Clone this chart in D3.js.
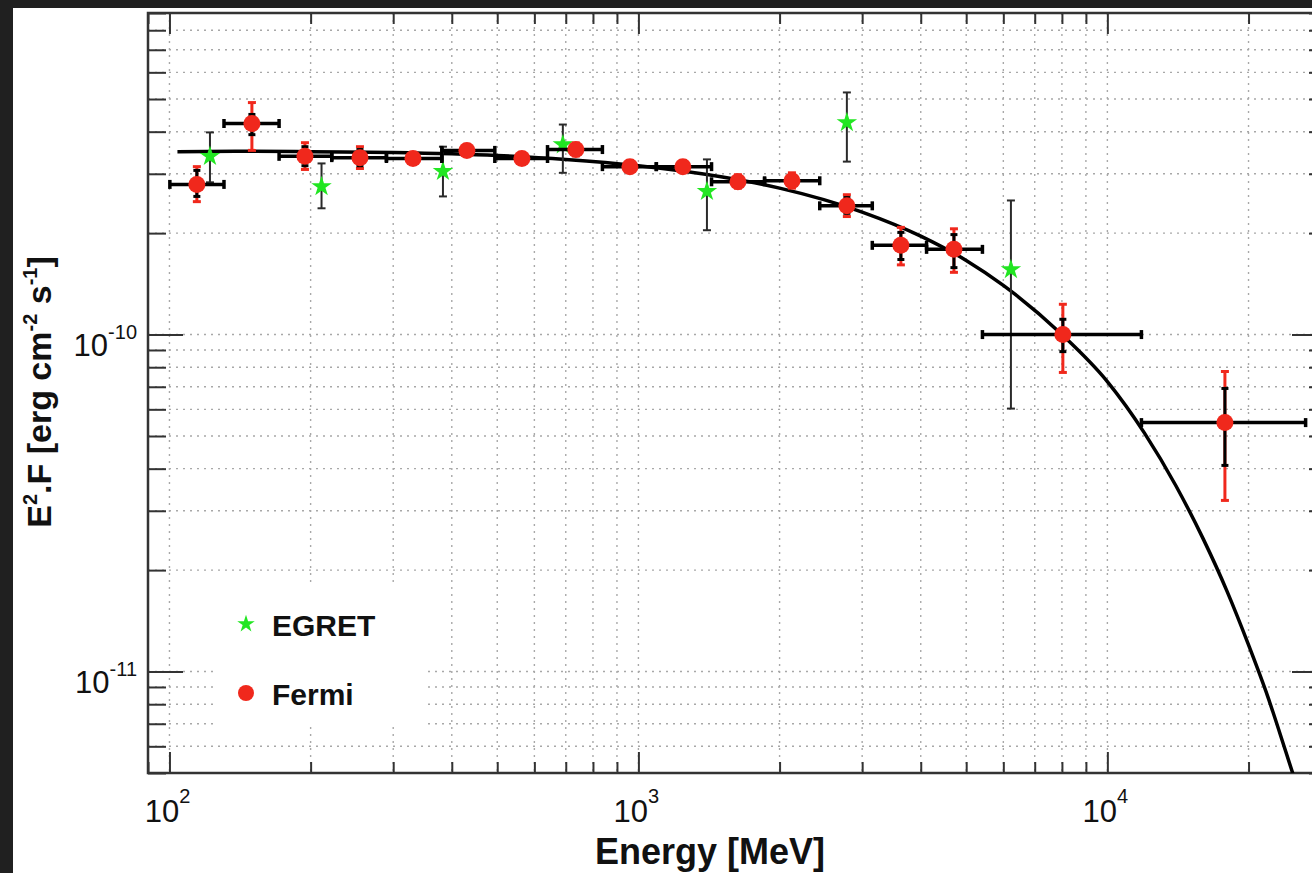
<!DOCTYPE html>
<html>
<head>
<meta charset="utf-8">
<script src="https://cdn.jsdelivr.net/npm/d3@7"></script>
<style>
body { margin: 0; background: #202020; }
text { font-family: "Liberation Sans", Arial, Helvetica, sans-serif; fill: #111; }
</style>
</head>
<body>
<script>
// Fermi-LAT points: energy [MeV], bin edges, E^2.F [erg cm-2 s-1]
const fermiE = [114.4, 149.9, 194.5, 254.8, 330.6, 430.8, 564.3, 735.6, 959.1, 1244, 1630, 2125, 2783, 3628, 4708, 8037, 17810]
const fermiElo = [100.2, 130.7, 171.3, 221.9, 290.2, 380.8, 494.1, 640, 838, 1092, 1432, 1858, 2436, 3153, 4116, 5415, 11820]
const fermiEhi = [130.7, 171.3, 221.9, 290.2, 380.8, 494.1, 640, 838, 1092, 1432, 1858, 2436, 3153, 4116, 5415, 11820, 26470]
const fermiF = [2.79e-10, 4.23e-10, 3.38e-10, 3.35e-10, 3.33e-10, 3.52e-10, 3.33e-10, 3.54e-10, 3.15e-10, 3.15e-10, 2.84e-10, 2.86e-10, 2.41e-10, 1.84e-10, 1.79e-10, 1.0e-10, 5.48e-11]
// total errors (red)
const fermiTotHi = [3.15e-10, 4.88e-10, 3.71e-10, 3.61e-10, 3.47e-10, 3.64e-10, 3.46e-10, 3.70e-10, 3.28e-10, 3.28e-10, 2.98e-10, 3.02e-10, 2.60e-10, 2.08e-10, 2.06e-10, 1.23e-10, 7.77e-11]
const fermiTotLo = [2.48e-10, 3.52e-10, 3.09e-10, 3.11e-10, 3.20e-10, 3.39e-10, 3.20e-10, 3.39e-10, 3.03e-10, 3.03e-10, 2.72e-10, 2.72e-10, 2.24e-10, 1.61e-10, 1.53e-10, 7.72e-11, 3.22e-11]
// statistical errors (black)
const fermiStatHi = [3.07e-10, 4.50e-10, 3.61e-10, 3.54e-10, 3.42e-10, 3.58e-10, 3.40e-10, 3.63e-10, 3.22e-10, 3.22e-10, 2.91e-10, 2.94e-10, 2.55e-10, 2.01e-10, 1.98e-10, 1.11e-10, 6.92e-11]
const fermiStatLo = [2.57e-10, 3.92e-10, 3.17e-10, 3.17e-10, 3.24e-10, 3.45e-10, 3.26e-10, 3.45e-10, 3.08e-10, 3.08e-10, 2.78e-10, 2.79e-10, 2.29e-10, 1.67e-10, 1.58e-10, 8.90e-11, 4.09e-11]

// EGRET points
const egretE = [122, 211, 383, 690, 1400, 2783, 6228]
const egretF = [3.38e-10, 2.75e-10, 3.05e-10, 3.66e-10, 2.66e-10, 4.26e-10, 1.56e-10]
const egretHi = [3.98e-10, 3.22e-10, 3.61e-10, 4.20e-10, 3.31e-10, 5.23e-10, 2.50e-10]
const egretLo = [2.83e-10, 2.37e-10, 2.57e-10, 3.02e-10, 2.04e-10, 3.26e-10, 6.03e-11]

// fitted spectrum
const fitE = [104, 150, 200, 300, 500, 700, 1000, 1500, 2000, 3000, 4000, 5000, 6000, 8000, 10000, 12000, 14000, 16000, 18000, 20000, 22000, 24000, 26000]
const fitF = [3.49e-10, 3.50e-10, 3.49e-10, 3.47e-10, 3.40e-10, 3.31e-10, 3.17e-10, 2.94e-10, 2.72e-10, 2.31e-10, 1.96e-10, 1.66e-10, 1.40e-10, 1.0e-10, 7.25e-11, 5.1e-11, 3.56e-11, 2.48e-11, 1.73e-11, 1.20e-11, 8.4e-12, 5.8e-12, 4.1e-12]

const legendNames = ["EGRET", "Fermi"]

const width = 1312
const height = 873
const mLeft = 148, mRight = 1327, mTop = 13, mBottom = 773
const red = "#f0281c"
const green = "#22e622"
const axisColor = "#333"

const svg = d3.select("body").append("svg")
    .attr("width", width)
    .attr("height", height)

svg.append("rect").attr("width", width).attr("height", height).attr("fill", "#202020")
svg.append("rect").attr("x", 13).attr("y", 8).attr("width", width - 13).attr("height", height - 8).attr("fill", "#fff")

const x = d3.scaleLog().domain([90, 29400]).range([mLeft, mRight])
const y = d3.scaleLog().domain([5e-12, 9e-10]).range([mBottom, mTop])

function isMajor(v) {
    const l = Math.log10(v)
    return Math.abs(l - Math.round(l)) < 1e-6
}

const xTicks = x.ticks()
const yTicks = y.ticks()

// dotted grid
const grid = svg.append("g")
    .attr("stroke", "#a8a8a8")
    .attr("stroke-width", 1.4)
    .attr("stroke-dasharray", "2,5")
grid.selectAll(".gx")
    .data(xTicks.filter(v => x(v) > mLeft + 2 && x(v) < mRight - 2))
    .join("line")
    .attr("class", "gx")
    .attr("x1", d => x(d)).attr("x2", d => x(d))
    .attr("y1", mTop).attr("y2", mBottom)
grid.selectAll(".gy")
    .data(yTicks.filter(v => y(v) > mTop + 2 && y(v) < mBottom - 2))
    .join("line")
    .attr("class", "gy")
    .attr("y1", d => y(d)).attr("y2", d => y(d))
    .attr("x1", mLeft).attr("x2", mRight)

// legend background
svg.append("rect")
    .attr("x", 217).attr("y", 583)
    .attr("width", 210).attr("height", 144)
    .attr("fill", "#fff")

// ticks on all four sides
function ticks(axis, transform, values, size) {
    svg.append("g")
        .attr("transform", transform)
        .call(axis.tickValues(values).tickSize(size).tickFormat(""))
        .call(g => g.select(".domain").remove())
        .selectAll("line")
        .attr("stroke", axisColor)
        .attr("stroke-width", 2)
}
const xMaj = xTicks.filter(isMajor), xMin = xTicks.filter(v => !isMajor(v))
const yMaj = yTicks.filter(isMajor), yMin = yTicks.filter(v => !isMajor(v))
ticks(d3.axisBottom(x), `translate(0,${mBottom})`, xMaj, -21)
ticks(d3.axisBottom(x), `translate(0,${mBottom})`, xMin, -11)
ticks(d3.axisTop(x), `translate(0,${mTop})`, xMaj, -21)
ticks(d3.axisTop(x), `translate(0,${mTop})`, xMin, -11)
ticks(d3.axisLeft(y), `translate(${mLeft},0)`, yMaj, -35)
ticks(d3.axisLeft(y), `translate(${mLeft},0)`, yMin, -18)
ticks(d3.axisRight(y), `translate(${mRight},0)`, yMaj, -35)
ticks(d3.axisRight(y), `translate(${mRight},0)`, yMin, -18)

svg.append("rect")
    .attr("x", mLeft).attr("y", mTop)
    .attr("width", mRight - mLeft).attr("height", mBottom - mTop)
    .attr("fill", "none")
    .attr("stroke", axisColor)
    .attr("stroke-width", 2.5)

// text with superscripts
function richText(sel, parts, size, supSize, rise) {
    let up = false
    parts.forEach(([str, sup]) => {
        const dy = sup && !up ? -rise : (!sup && up ? rise : 0)
        sel.append("tspan").attr("dy", dy).attr("font-size", sup ? supSize : size).text(str)
        up = sup
    })
}

xMaj.forEach(v => {
    const t = svg.append("text")
        .attr("x", x(v) - 2).attr("y", mBottom + 49)
        .attr("text-anchor", "middle")
    richText(t, [["10", false], [String(Math.round(Math.log10(v))), true]], 31, 20, 19)
})
yMaj.forEach(v => {
    const t = svg.append("text")
        .attr("x", 137).attr("y", y(v) + 21)
        .attr("text-anchor", "end")
    richText(t, [["10", false], [String(Math.round(Math.log10(v))), true]], 31, 20, 17)
})

svg.append("text")
    .attr("transform", "translate(710,864)")
    .attr("text-anchor", "middle")
    .attr("font-weight", "bold")
    .attr("font-size", 36)
    .text("Energy [MeV]")

const yTitle = svg.append("text")
    .attr("transform", "translate(51,392) rotate(-90)")
    .attr("text-anchor", "middle")
    .attr("font-weight", "bold")
richText(yTitle, [["E", false], ["2", true], [".F [erg cm", false], ["-2", true], [" s", false], ["-1", true], ["]", false]], 34, 20, 14)

// clipped plotting area
svg.append("clipPath").attr("id", "plot")
    .append("rect")
    .attr("x", mLeft).attr("y", mTop)
    .attr("width", mRight - mLeft).attr("height", mBottom - mTop)
const plot = svg.append("g").attr("clip-path", "url(#plot)")

const fit = fitE.map((e, i) => [e, fitF[i]])
plot.append("path")
    .datum(fit)
    .attr("fill", "none")
    .attr("stroke", "#000")
    .attr("stroke-width", 3.5)
    .attr("d", d3.line().x(d => x(d[0])).y(d => y(d[1])).curve(d3.curveMonotoneX))

function vbar(g, xv, y1, y2, color, w, cap) {
    g.append("line").attr("x1", xv).attr("x2", xv).attr("y1", y1).attr("y2", y2)
        .attr("stroke", color).attr("stroke-width", w)
    ;[y1, y2].forEach(yy => g.append("line")
        .attr("x1", xv - cap / 2).attr("x2", xv + cap / 2).attr("y1", yy).attr("y2", yy)
        .attr("stroke", color).attr("stroke-width", w))
}
function hbar(g, x1, x2, yv, color, w, cap) {
    g.append("line").attr("x1", x1).attr("x2", x2).attr("y1", yv).attr("y2", yv)
        .attr("stroke", color).attr("stroke-width", w)
    ;[x1, x2].forEach(xx => g.append("line")
        .attr("x1", xx).attr("x2", xx).attr("y1", yv - cap / 2).attr("y2", yv + cap / 2)
        .attr("stroke", color).attr("stroke-width", w))
}

// EGRET
const egret = plot.append("g")
egretE.forEach((e, i) => {
    vbar(egret, x(e), y(egretHi[i]), y(egretLo[i]), "#2a2a2a", 2, 8)
})
const star = d3.symbol().type(d3.symbolStar).size(130)
egret.selectAll("path.star")
    .data(egretE)
    .join("path")
    .attr("class", "star")
    .attr("transform", (d, i) => `translate(${x(d)},${y(egretF[i])})`)
    .attr("d", star)
    .attr("fill", green)

// Fermi
const fermi = plot.append("g")
fermiE.forEach((e, i) => {
    hbar(fermi, x(fermiElo[i]), x(fermiEhi[i]), y(fermiF[i]), "#000", 3.5, 9)
    vbar(fermi, x(e), y(fermiTotHi[i]), y(fermiTotLo[i]), red, 3, 8)
    vbar(fermi, x(e), y(fermiStatHi[i]), y(fermiStatLo[i]), "#000", 3, 7)
})
fermi.selectAll("circle")
    .data(fermiE)
    .join("circle")
    .attr("cx", d => x(d))
    .attr("cy", (d, i) => y(fermiF[i]))
    .attr("r", 8.5)
    .attr("fill", red)

// legend
const legend = svg.append("g")
legend.append("path")
    .attr("transform", "translate(246,624)")
    .attr("d", d3.symbol().type(d3.symbolStar).size(95))
    .attr("fill", green)
legend.append("circle")
    .attr("cx", 246).attr("cy", 693).attr("r", 8)
    .attr("fill", red)
legend.selectAll("text")
    .data(legendNames)
    .join("text")
    .attr("x", 272)
    .attr("y", (d, i) => 636 + i * 69)
    .attr("font-size", 30)
    .attr("font-weight", "bold")
    .text(d => d)
</script>
</body>
</html>
